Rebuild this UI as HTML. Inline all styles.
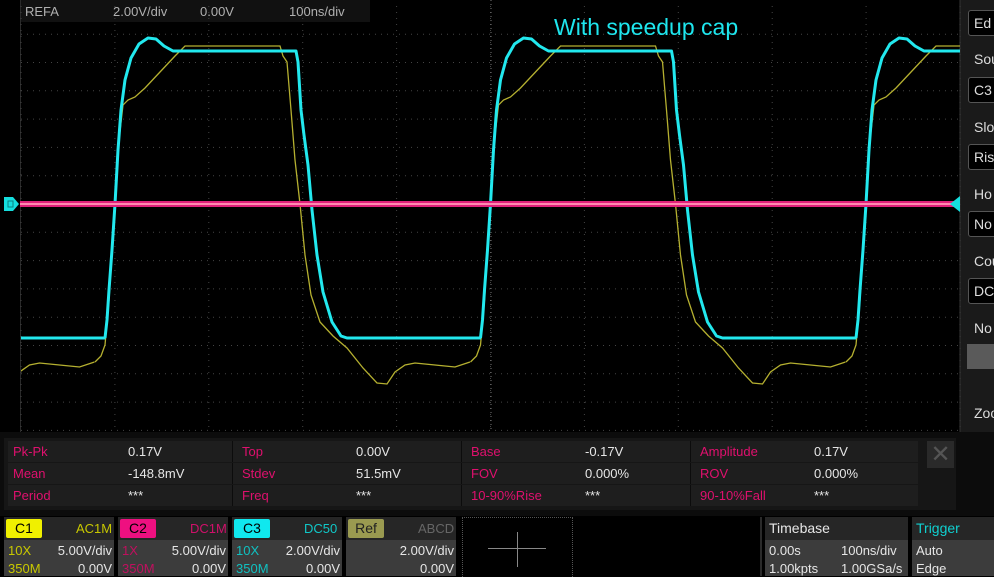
<!DOCTYPE html>
<html><head><meta charset="utf-8"><style>
body{margin:0;width:994px;height:576px;background:#000;overflow:hidden;font-family:"Liberation Sans","DejaVu Sans",sans-serif;position:relative}
.a{position:absolute;white-space:nowrap}
.m{font-size:13px;color:#e6e6e6}
.p{color:#e0106e}
</style></head><body>
<svg class="a" style="left:0;top:0" width="994" height="576" id="s">
<rect x="960" y="0" width="34" height="432" fill="#1a1a1a"/>
<line x1="960" y1="0" x2="960" y2="432" stroke="#333"/>
<rect x="20" y="0" width="350" height="22" fill="#111"/>
<line x1="20.5" y1="0" x2="20.5" y2="432" stroke="#2a2a2a"/>
<g id="grid" stroke="#444" stroke-width="1" stroke-dasharray="1 5"></g>
<g id="w" fill="none"></g>
<rect x="20" y="201" width="940" height="6" fill="#e0207a"/>
<rect x="20" y="203" width="940" height="2" fill="#ff8ab0"/>
<path d="M4 197 H13 L19 204 L13 211 H4 Z" fill="#15dede"/>
<rect x="8" y="201" width="5" height="6" fill="none" stroke="#0a8080"/>
<path d="M960 196 L950 204 L960 212 Z" fill="#15dede"/>
</svg>
<div class="a" style="left:25px;top:4px;font-size:13px;color:#b0b0b0">REFA</div>
<div class="a" style="left:113px;top:4px;font-size:13px;color:#b0b0b0">2.00V/div</div>
<div class="a" style="left:200px;top:4px;font-size:13px;color:#b0b0b0">0.00V</div>
<div class="a" style="left:289px;top:4px;font-size:13px;color:#b0b0b0">100ns/div</div>
<div class="a" style="left:554px;top:14px;font-size:23px;color:#1ee6ee">With speedup cap</div>
<div class="a" style="left:966px;top:0;width:28px;font-size:14px;color:#ddd;line-height:1">
<div style="position:absolute;top:10px;left:2px;width:40px;height:24px;border:1px solid #555;background:#000;border-radius:3px"><span style="position:absolute;left:5px;top:5px">Ed</span></div>
<div style="position:absolute;top:52px;left:8px">Sou</div>
<div style="position:absolute;top:77px;left:2px;width:40px;height:24px;border:1px solid #555;background:#000;border-radius:3px"><span style="position:absolute;left:5px;top:5px">C3</span></div>
<div style="position:absolute;top:120px;left:8px">Slo</div>
<div style="position:absolute;top:144px;left:2px;width:40px;height:24px;border:1px solid #555;background:#000;border-radius:3px"><span style="position:absolute;left:5px;top:5px">Ris</span></div>
<div style="position:absolute;top:187px;left:8px">Ho</div>
<div style="position:absolute;top:211px;left:2px;width:40px;height:24px;border:1px solid #555;background:#000;border-radius:3px"><span style="position:absolute;left:5px;top:5px">No</span></div>
<div style="position:absolute;top:254px;left:8px">Cou</div>
<div style="position:absolute;top:278px;left:2px;width:40px;height:24px;border:1px solid #555;background:#000;border-radius:3px"><span style="position:absolute;left:5px;top:5px">DC</span></div>
<div style="position:absolute;top:321px;left:8px">No</div>
<div style="position:absolute;top:344px;left:1px;width:40px;height:25px;background:#5a5a5a"></div>
<div style="position:absolute;top:406px;left:8px">Zoo</div>
</div>
<div class="a" style="left:0;top:432px;width:994px;height:84px;background:#0c0c0c"></div>
<div class="a" style="left:4px;top:438px;width:952px;height:72px;background:#161616"></div>
<div id="meas"></div>
<div class="a" style="left:927px;top:441px;width:27px;height:27px;background:#2a2a2a;color:#555;font-size:24px;text-align:center;line-height:27px">✕</div>
<div id="chan"></div>
<script>
const g=document.getElementById('grid');let h='';
for(let i=0;i<=10;i++){const x=21+i*93.9;h+=`<line x1="${x}" y1="6" x2="${x}" y2="430"/>`;}
for(let j=-6;j<=8;j++){const y=204+j*28.3;if(y>5&&y<432)h+=`<line x1="21" y1="${y}" x2="960" y2="${y}"/>`;}
h+=`<line x1="491" y1="0" x2="491" y2="432" stroke="#777" stroke-dasharray="1 3"/>`;
g.innerHTML=h;
const cy=[[-10,338],[-8,320],[-6,290],[-3,250],[0,204],[3,150],[6,110],[10,80],[16,58],[24,44],[33,38],[41,39],[49,46],[58,51],[181,51],[183,62],[186,110],[189,135],[193,165],[197,210],[202,255],[208,292],[217,322],[226,336],[232,338],[366,338]];
const ye=[[-20,362],[-14,356],[-10,345],[-6,300],[-3,250],[0,204],[4,140],[8,105],[13,100],[20,97],[30,88],[45,72],[60,56],[70,46],[165,46],[168,56],[172,62],[176,110],[180,160],[185,204],[190,255],[196,295],[205,322],[218,336],[232,348],[248,368],[262,383],[272,384],[280,372],[290,365],[300,363],[320,365],[340,367],[355,362]];
function path(pts){let d='';for(const x0 of [115-375.5,115,490.5,866]){pts.forEach((p,i)=>{d+=(i?'L':'M')+(x0+p[0]).toFixed(1)+' '+p[1]+' ';});}return d;}
document.getElementById('w').innerHTML=`<clipPath id="c"><rect x="21" y="0" width="939" height="432"/></clipPath><g clip-path="url(#c)"><path d="${path(ye)}" stroke="#b5b030" stroke-width="1.3"/><path d="${path(cy)}" stroke="#22e8ee" stroke-width="3" stroke-linejoin="round"/></g>`;
const rows=[["Pk-Pk","0.17V","Top","0.00V","Base","-0.17V","Amplitude","0.17V"],["Mean","-148.8mV","Stdev","51.5mV","FOV","0.000%","ROV","0.000%"],["Period","***","Freq","***","10-90%Rise","***","90-10%Fall","***"]];
let m='';const cx=[13,128,242,356,471,585,700,814];
rows.forEach((r,i)=>{m+=`<div class="a" style="left:8px;top:${441+i*22}px;width:910px;height:21px;background:#1e1e1e"></div>`;[232,461,690].forEach(x=>m+=`<div class="a" style="left:${x}px;top:${441+i*22}px;width:1px;height:21px;background:#0c0c0c"></div>`);
r.forEach((t,k)=>m+=`<div class="a m ${k%2?'':'p'}" style="left:${cx[k]}px;top:${444+i*22}px">${t}</div>`);});
document.getElementById('meas').innerHTML=m;
let c='';
const ch=[[4,"C1","#f0f000","#000","AC1M","#c8c800","10X","5.00V/div","350M","0.00V","#c8c800"],[118,"C2","#ee1080","#000","DC1M","#d0106a","1X","5.00V/div","350M","0.00V","#c0105e"],[232,"C3","#10e8ee","#000","DC50","#10c8c8","10X","2.00V/div","350M","0.00V","#10c0c0"],[346,"Ref","#9a9a50","#222","ABCD","#666","","2.00V/div","","0.00V","#999"]];
ch.forEach(a=>{const x=a[0];c+=`<div class="a" style="left:${x}px;top:517px;width:110px;height:59px;background:#3c3c3c"></div>
<div class="a" style="left:${x}px;top:517px;width:110px;height:23px;background:#262626"></div>
<div class="a" style="left:${x+2}px;top:519px;width:36px;height:19px;background:${a[2]};color:${a[3]};font-size:14px;text-align:center;line-height:19px;border-radius:2px">${a[1]}</div>
<div class="a" style="left:${x+72}px;top:521px;font-size:13px;color:${a[5]}">${a[4]}</div>
<div class="a" style="left:${x+4}px;top:543px;font-size:13px;color:${a[10]}">${a[6]}</div>
<div class="a" style="left:${x+4}px;top:561px;font-size:13px;color:${a[10]}">${a[8]}</div>
<div class="a" style="right:${994-x-108}px;top:543px;font-size:13px;color:#e6e6e6">${a[7]}</div>
<div class="a" style="right:${994-x-108}px;top:561px;font-size:13px;color:#e6e6e6">${a[9]}</div>`;});
c+=`<div class="a" style="left:462px;top:517px;width:109px;height:59px;border:1px dotted #555;border-bottom:none"></div>
<div class="a" style="left:488px;top:548px;width:58px;height:1px;background:#888"></div>
<div class="a" style="left:517px;top:532px;width:1px;height:35px;background:#888"></div>
<div class="a" style="left:760px;top:517px;width:2px;height:59px;background:#2a2a2a"></div>
<div class="a" style="left:765px;top:517px;width:143px;height:59px;background:#3c3c3c"></div>
<div class="a" style="left:765px;top:517px;width:143px;height:23px;background:#262626"></div>
<div class="a m" style="left:769px;top:520px;font-size:14px">Timebase</div>
<div class="a m" style="left:769px;top:543px">0.00s</div><div class="a m" style="left:841px;top:543px">100ns/div</div>
<div class="a m" style="left:769px;top:561px">1.00kpts</div><div class="a m" style="left:841px;top:561px">1.00GSa/s</div>
<div class="a" style="left:912px;top:517px;width:82px;height:59px;background:#3c3c3c"></div>
<div class="a" style="left:912px;top:517px;width:82px;height:23px;background:#262626"></div>
<div class="a" style="left:916px;top:520px;font-size:14px;color:#10d0d0">Trigger</div>
<div class="a m" style="left:916px;top:543px">Auto</div><div class="a m" style="left:916px;top:561px">Edge</div>`;
document.getElementById('chan').innerHTML=c;
</script>
</body></html>
